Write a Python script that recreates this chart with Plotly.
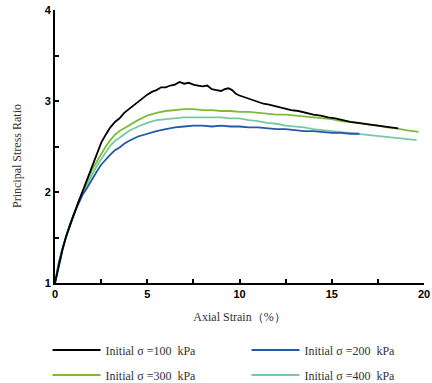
import plotly.graph_objects as go

# ---- data ----
x_100 = [0, 0.2, 0.4, 0.6, 0.8, 1.0, 1.25, 1.5, 1.75, 2.0, 2.25, 2.5, 2.75, 3.0, 3.25, 3.5, 3.75, 4.0,
         4.25, 4.5, 4.75, 5.0, 5.25, 5.5, 5.75, 6.0, 6.25, 6.5, 6.75, 7.0, 7.25, 7.5, 7.75, 8.0, 8.25, 8.5,
         8.75, 9.0, 9.2, 9.4, 9.6, 9.8, 10.0, 10.3, 10.6, 11.0, 11.3, 11.6, 12.0, 12.4, 12.8, 13.2, 13.6,
         14.0, 14.4, 14.8, 15.2, 15.6, 16.0, 16.4, 16.8, 17.2, 17.6, 18.0, 18.3, 18.6]
y_100 = [1.0, 1.2, 1.36, 1.51, 1.63, 1.75, 1.88, 2.01, 2.14, 2.28, 2.42, 2.54, 2.63, 2.71, 2.77, 2.81, 2.87, 2.91,
         2.95, 2.99, 3.04, 3.07, 3.10, 3.12, 3.15, 3.15, 3.17, 3.18, 3.21, 3.19, 3.20, 3.18, 3.17, 3.16, 3.17, 3.13,
         3.12, 3.11, 3.13, 3.14, 3.12, 3.08, 3.06, 3.04, 3.02, 2.99, 2.97, 2.96, 2.94, 2.92, 2.90, 2.89, 2.87,
         2.85, 2.84, 2.82, 2.81, 2.79, 2.77, 2.76, 2.75, 2.74, 2.73, 2.72, 2.71, 2.70]

x_200 = [0, 0.2, 0.4, 0.6, 0.8, 1.0, 1.25, 1.5, 1.75, 2.0, 2.25, 2.5, 2.75, 3.0, 3.25, 3.5, 3.75, 4.0,
         4.5, 5.0, 5.5, 6.0, 6.5, 7.0, 7.5, 8.0, 8.5, 9.0, 9.5, 10.0, 10.5, 11.0, 11.5, 12.0, 12.5, 13.0,
         13.5, 14.0, 14.5, 15.0, 15.5, 16.0, 16.5]
y_200 = [1.0, 1.22, 1.38, 1.52, 1.64, 1.75, 1.87, 1.97, 2.05, 2.14, 2.22, 2.30, 2.36, 2.41, 2.46, 2.49, 2.53, 2.56,
         2.61, 2.64, 2.67, 2.69, 2.71, 2.72, 2.73, 2.73, 2.72, 2.73, 2.72, 2.72, 2.71, 2.71, 2.70, 2.69, 2.69, 2.68,
         2.67, 2.67, 2.66, 2.65, 2.65, 2.64, 2.64]

x_300 = [0, 0.2, 0.4, 0.6, 0.8, 1.0, 1.25, 1.5, 1.75, 2.0, 2.25, 2.5, 2.75, 3.0, 3.25, 3.5, 3.75, 4.0,
         4.5, 5.0, 5.5, 6.0, 6.5, 7.0, 7.5, 8.0, 8.5, 9.0, 9.5, 10.0, 10.5, 11.0, 11.5, 12.0, 12.5, 13.0,
         13.5, 14.0, 14.5, 15.0, 15.5, 16.0, 16.5, 17.0, 17.5, 18.0, 18.5, 19.0, 19.7]
y_300 = [1.0, 1.2, 1.36, 1.51, 1.63, 1.75, 1.88, 2.0, 2.12, 2.24, 2.33, 2.42, 2.50, 2.57, 2.63, 2.67, 2.70, 2.73,
         2.79, 2.84, 2.87, 2.89, 2.90, 2.91, 2.91, 2.90, 2.90, 2.89, 2.89, 2.88, 2.88, 2.87, 2.86, 2.85, 2.85, 2.84,
         2.83, 2.82, 2.81, 2.80, 2.78, 2.77, 2.76, 2.74, 2.73, 2.71, 2.70, 2.68, 2.66]

x_400 = [0, 0.2, 0.4, 0.6, 0.8, 1.0, 1.25, 1.5, 1.75, 2.0, 2.25, 2.5, 2.75, 3.0, 3.25, 3.5, 3.75, 4.0,
         4.5, 5.0, 5.5, 6.0, 6.5, 7.0, 7.5, 8.0, 8.5, 9.0, 9.5, 10.0, 10.5, 11.0, 11.5, 12.0, 12.5, 13.0,
         13.5, 14.0, 14.5, 15.0, 15.5, 16.0, 16.5, 17.0, 17.5, 18.0, 18.5, 19.0, 19.6]
y_400 = [1.0, 1.21, 1.37, 1.51, 1.63, 1.75, 1.88, 1.99, 2.09, 2.19, 2.28, 2.36, 2.44, 2.51, 2.56, 2.60, 2.64, 2.67,
         2.72, 2.76, 2.79, 2.80, 2.81, 2.82, 2.82, 2.82, 2.82, 2.82, 2.81, 2.81, 2.79, 2.78, 2.76, 2.75, 2.73, 2.72,
         2.71, 2.69, 2.68, 2.67, 2.66, 2.65, 2.64, 2.63, 2.62, 2.61, 2.60, 2.59, 2.57]

series_names = ["Initial σ =100  kPa", "Initial σ =200  kPa", "Initial σ =300  kPa", "Initial σ =400  kPa"]
series_x = [x_100, x_200, x_300, x_400]
series_y = [y_100, y_200, y_300, y_400]
colors = ["#000000", "#2458ad", "#7dbd35", "#76c9a3"]
legend_ids = ["legend", "legend2", "legend3", "legend4"]

fig = go.Figure()
# draw order: teal, green, blue, black on top
for i in [3, 2, 1, 0]:
    fig.add_trace(go.Scatter(
        x=series_x[i], y=series_y[i], mode="lines", name=series_names[i],
        line=dict(color=colors[i], width=1.8), legend=legend_ids[i],
    ))

serif = "Liberation Serif, Times New Roman, serif"
sans = "Liberation Sans, Arial, sans-serif"

leg_common = dict(orientation="h", xref="container", yref="container", xanchor="left", yanchor="middle",
                  font=dict(family=serif, size=12, color="#333"), itemwidth=48,
                  bgcolor="rgba(0,0,0,0)")

col1 = 0.11
col2 = 0.11 + 199 / 432
row1 = 1 - 350 / 383
row2 = 1 - 375 / 383

fig.update_layout(
    width=432, height=383,
    margin=dict(l=55, r=8, t=10, b=100, autoexpand=False),
    paper_bgcolor="white", plot_bgcolor="white",
    showlegend=True,
    legend=dict(x=col1, y=row1, **leg_common),
    legend2=dict(x=col2, y=row1, **leg_common),
    legend3=dict(x=col1, y=row2, **leg_common),
    legend4=dict(x=col2, y=row2, **leg_common),
    xaxis=dict(range=[0, 20], tickvals=[0, 5, 10, 15, 20], ticks="inside", ticklen=4, tickwidth=1.5,
               tickcolor="black", showline=True, linecolor="black", linewidth=2, showgrid=False,
               zeroline=False, tickfont=dict(family=sans, size=11, color="black", weight="bold"),
               minor=dict(tickvals=[2.5, 7.5, 12.5, 17.5], ticks="inside", ticklen=4, tickwidth=1.5, tickcolor="black"),
               title=dict(text="Axial Strain（%）", font=dict(family=serif, size=12, color="#333"), standoff=13)),
    yaxis=dict(range=[1, 4], tickvals=[1, 2, 3, 4], ticks="inside", ticklen=4, tickwidth=1.5,
               tickcolor="black", showline=True, linecolor="black", linewidth=2, showgrid=False,
               zeroline=False, tickfont=dict(family=sans, size=11, color="black", weight="bold"),
               minor=dict(tickvals=[1.5, 2.5, 3.5], ticks="inside", ticklen=4, tickwidth=1.5, tickcolor="black")),
    annotations=[dict(text="Principal Stress Ratio", textangle=-90, xref="paper", yref="paper",
                      x=-(55 - 17) / 369, y=(283 - 156) / 273, xanchor="center", yanchor="middle",
                      showarrow=False, font=dict(family=serif, size=12, color="#333"))],
)

fig.write_html("out.html")
